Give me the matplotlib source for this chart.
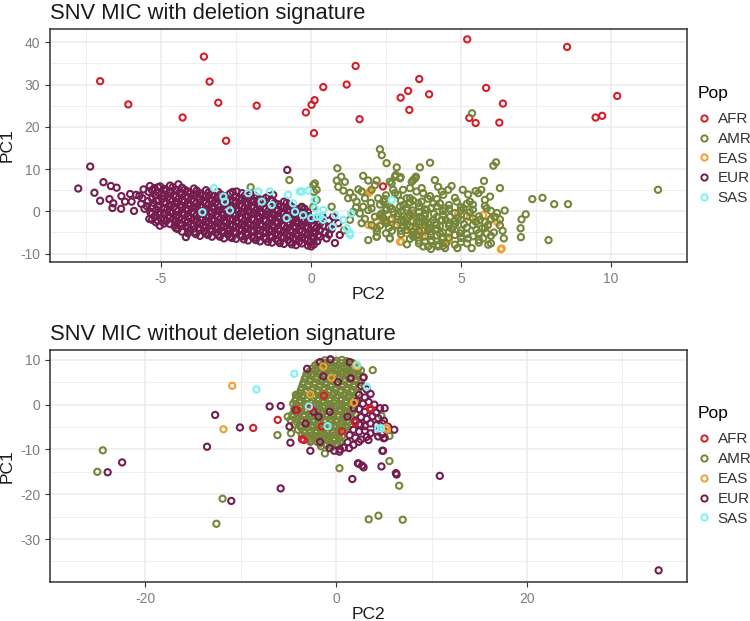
import numpy as np
import matplotlib
matplotlib.use("Agg")
import matplotlib.pyplot as plt
from matplotlib.lines import Line2D

plt.rcParams['font.family'] = ['Liberation Sans', 'DejaVu Sans']
plt.rcParams['axes.unicode_minus'] = False

################################################################################
# data (PC2, PC1)
POPS = ['AFR', 'AMR', 'EAS', 'EUR', 'SAS']
COLORS = {'AFR': '#D41F2A', 'AMR': '#75863A', 'EAS': '#EDA12E',
          'EUR': '#741D4E', 'SAS': '#80F2F2'}

# ---- panel 1: with deletion signature
top_afr = [(-7.03, 30.8), (-6.09, 25.3), (-3.57, 36.6), (-3.38, 30.7), (-3.09, 25.7),
           (-4.28, 22.2), (-2.83, 16.7), (-1.81, 25.0), (-0.17, 23.4), (0.02, 25.2),
           (0.12, 26.3), (0.41, 29.4), (0.10, 18.5), (1.19, 30.0), (1.49, 34.4),
           (1.62, 21.8), (5.21, 40.7), (8.54, 38.9), (3.61, 31.3), (3.24, 28.5),
           (2.99, 26.9), (3.94, 27.7), (3.28, 24.0), (5.84, 29.2), (6.40, 25.5),
           (5.28, 22.1), (5.49, 20.9), (6.28, 21.0), (9.49, 22.2), (9.71, 22.6),
           (10.21, 27.3), (2.40, 5.9)]

top_amr = [(5.37, 23.2), (11.57, 5.1), (2.30, 14.7), (2.36, 13.3), (2.52, 11.4),
           (2.86, 10.4), (3.97, 11.5), (3.63, 10.4), (0.88, 10.2), (0.13, 6.6),
           (0.86, 7.3), (1.01, 8.2), (1.13, 7.0), (0.91, 5.8), (1.08, 4.9),
           (1.74, 8.4), (1.91, 7.3), (2.19, 7.3), (2.13, 6.2), (2.02, 5.1),
           (1.69, 4.7), (1.30, 4.4), (1.41, 3.3), (1.24, 3.1), (1.58, 5.2),
           (1.52, 2.3), (1.80, 3.1), (1.74, 1.1), (2.02, 0.7), (2.24, 3.1),
           (2.47, 2.9), (2.63, 7.0), (2.80, 8.2), (2.97, 7.8), (2.74, 5.1),
           (2.90, 3.9), (3.07, 5.1), (3.19, 3.1), (3.30, 2.1), (3.41, 7.4),
           (3.50, 8.2), (3.30, 5.5), (3.52, 4.7), (3.74, 4.3), (3.69, 2.3),
           (3.97, 3.6), (4.08, 1.9), (4.24, 5.8), (4.36, 4.7), (3.86, 0.3),
           (3.63, -1.3), (3.41, -0.5), (3.19, 0.3), (2.97, 1.1), (2.74, -0.1),
           (2.52, 0.7), (2.36, -0.5), (2.13, -1.3), (1.91, 0.3), (1.63, -0.5),
           (1.41, -0.1), (1.30, -2.0), (1.69, -2.8), (2.02, -3.2), (2.19, -4.0),
           (2.52, -2.8), (2.86, -3.2), (3.08, -2.0), (3.29, -3.6), (3.52, -2.8),
           (3.80, -2.4), (3.97, -4.0), (4.19, -3.2), (4.36, -2.0), (1.91, -6.8),
           (2.19, -6.0), (2.63, -6.4), (3.19, -4.4), (3.52, -5.6), (3.80, -7.2),
           (3.91, -8.3), (4.24, -7.9), (4.36, -6.4), (0.69, 1.1), (0.19, 5.1),
           (0.19, 2.7), (0.08, 1.1), (6.08, 10.8), (6.17, 11.6), (6.30, 5.5),
           (5.77, 7.2), (5.68, 5.1), (5.49, 4.8), (5.24, 4.0), (5.06, 5.1),
           (4.69, 6.0), (4.58, 5.1), (4.41, 3.9), (4.13, 7.4), (3.69, 5.5),
           (3.47, 7.8), (3.36, 7.0), (2.99, 8.1), (2.83, 8.6), (2.69, 6.6),
           (7.38, 2.9), (7.72, 3.2), (8.11, 1.7), (8.57, 1.7), (7.92, -6.8),
           (7.16, -0.7), (7.02, -1.9), (6.99, -4.0), (7.00, -6.1), (6.46, 0.2),
           (6.39, -4.6), (6.43, -6.4), (6.13, -1.3), (5.86, 0.7), (5.80, 2.7),
           (5.63, -2.0), (5.86, -5.2), (5.91, -7.9), (5.74, -6.4), (5.52, -4.4),
           (5.36, -8.7), (5.24, -6.4), (5.30, 2.3), (5.08, 0.7), (4.88, -8.7),
           (4.97, -5.2), (4.74, -3.6), (4.63, -1.3), (4.47, 0.7), (4.30, -5.2),
           (4.24, -8.3), (4.47, -8.7), (4.02, -6.8), (3.74, -8.3), (3.91, -4.4),
           (4.08, -2.0), (3.80, -0.5), (3.58, 1.9), (3.30, 3.1), (3.08, 1.5),
           (2.91, -0.5), (2.63, 1.1), (2.41, 2.3), (3.41, -6.0), (3.08, -3.6),
           (2.63, -6.4), (2.19, -6.0), (3.63, -2.4), (4.30, 1.9), (4.86, 2.3),
           (5.58, 4.3), (5.97, 3.5), (4.60, -5.0), (2.90, -1.2), (3.10, -2.6),
           (3.30, -0.9), (3.50, -3.8), (3.70, -1.6), (3.90, -2.9), (4.10, -0.6),
           (4.30, -3.5), (4.50, -2.1), (4.70, -4.2), (4.90, -1.5), (5.10, -3.0),
           (5.30, -0.2), (5.50, -2.5), (5.70, -4.0), (4.00, -5.5), (4.40, -6.1),
           (4.80, -3.1), (5.20, -5.4), (3.40, -4.9), (3.00, -4.6), (2.60, -3.9),
           (2.40, -1.5), (4.60, 0.6), (4.20, 1.2), (3.80, 0.5), (5.00, 1.0),
           (5.40, 1.6), (5.90, -3.3), (6.10, -5.0), (6.20, -0.4), (4.50, -7.6),
           (4.00, -8.9), (3.60, -7.6), (5.00, -7.3), (3.30, -6.5), (2.20, -4.8),
           (1.80, -1.8), (1.50, 0.9), (2.00, 2.0), (2.80, 4.3), (3.90, 3.0),
           (4.80, 3.2), (5.60, -6.8), (6.00, -7.6), (-2.01, 5.7), (-0.72, 7.4),
           (-0.29, 0.7), (0.08, 6.2), (-0.31, 1.1), (0.10, 4.6), (1.10, -4.5)]

# extra AMR points in the dense core, one column per PC2 value
top_amr_core = [(2.3, [-3.4, -0.9, 1.6]), (2.5, [-5.2, -2.2, 0.3, 3.8]),
                (2.7, [-4.6, -1.8, 0.6]), (3.0, [-5.4, -2.2, 0.0, 2.5]),
                (3.2, [-7.8, -3.1, -1.4, 0.9]), (3.4, [-5.6, -2.3, 0.2, 2.6]),
                (3.6, [-6.9, -4.6, -0.2, 1.1]), (3.8, [-5.9, -3.3, -1.1]),
                (4.0, [-7.2, -4.8, -2.6, 0.8]), (4.2, [-5.7, -4.1, -1.3, 2.9]),
                (4.4, [-8.2, -5.0, -0.9, 0.1]), (4.6, [-6.2, -3.4, -2.8, 1.5]),
                (4.8, [-7.9, -5.6, -2.3, -0.4]), (5.0, [-6.3, -4.5, -2.0, 0.2]),
                (5.2, [-7.6, -3.8, -1.1, 1.8]), (5.4, [-5.9, -3.2, -1.7, 0.4]),
                (5.6, [-7.4, -5.1, -1.2]), (5.8, [-3.9, -2.5, 1.3]),
                (6.0, [-5.8, -1.8, 0.1]), (6.3, [-3.3, -1.9])]

top_eas = [(1.97, 4.7), (2.36, -1.3), (2.47, -2.0), (1.91, -3.2), (2.80, -3.6),
           (2.97, -7.2), (3.19, -5.2), (3.63, -5.6), (3.74, -4.0), (3.41, -1.3),
           (2.19, -2.4), (1.94, 4.4), (3.02, -7.2), (6.36, -8.8), (6.22, -2.6),
           (4.91, -0.5), (4.60, -6.8), (3.74, -4.4), (3.72, -6.1), (2.63, -2.0),
           (2.41, -2.4), (2.08, -3.6), (5.74, -0.9), (5.96, -2.2), (5.30, -1.4),
           (3.44, -4.4), (4.58, -6.8), (6.33, -9.0)]

top_eur = [(-7.76, 5.4), (-7.36, 10.6), (-7.22, 4.4), (-7.03, 2.5), (-6.92, 6.9),
           (-6.72, 2.9), (-6.67, 6.0), (-6.48, 5.6), (-6.59, 1.9), (-6.62, 0.8),
           (-6.33, 0.6), (-6.32, 3.6), (-6.03, 4.1), (-5.98, 2.3), (-5.83, 3.9),
           (-5.90, 0.1), (-6.20, 2.3), (-5.72, 3.7), (-0.79, 9.8), (-4.17, -6.1),
           (-2.03, 3.9), (-1.26, 3.9), (-2.48, 4.7),
           (-5.62, 3.1), (-5.58, 5.2), (-5.55, 0.6), (-5.66, 1.8),
           (-5.41, 4.6), (-5.37, 6.0), (-5.44, 2.4), (-5.35, -0.3), (-5.47, 1.2), (-5.39, -1.8),
           (-5.22, 5.5), (-5.18, 3.7), (-5.25, 2.0), (-5.15, 0.4), (-5.21, -1.1), (-5.17, -2.6),
           (-5.03, 5.9), (-4.98, 4.2), (-5.05, 1.4), (-4.96, 2.9), (-5.02, -0.2), (-4.99, -1.7),
           (-5.04, -3.4),
           (-4.82, 4.9), (-4.77, 3.3), (-4.84, 1.9), (-4.79, 0.5), (-4.76, -1.0), (-4.83, -2.3),
           (-4.61, 5.7), (-4.58, 3.9), (-4.63, 2.5), (-4.57, 1.1), (-4.62, -0.4), (-4.59, -1.9),
           (-4.55, -3.5),
           (-4.42, 6.4), (-4.38, 4.5), (-4.41, 3.0), (-4.36, 1.6), (-4.43, 0.1), (-4.39, -1.4),
           (-4.37, -2.8), (-4.44, -4.2),
           (-4.21, 5.1), (-4.18, 3.6), (-4.23, 2.2), (-4.17, 0.7), (-4.22, -0.8), (-4.19, -2.2),
           (-4.16, -3.6),
           (-4.02, 4.2), (-3.98, 2.8), (-4.03, 1.3), (-3.97, -0.1), (-4.01, -1.6), (-3.99, -3.0),
           (-4.04, -4.5),
           (-3.81, 4.9), (-3.78, 3.4), (-3.83, 1.9), (-3.77, 0.5), (-3.82, -1.0), (-3.79, -2.4),
           (-3.76, -3.9), (-3.84, -5.4),
           (-3.61, 3.8), (-3.58, 2.3), (-3.63, 0.9), (-3.57, -0.6), (-3.62, -2.0), (-3.59, -3.4),
           (-3.56, -4.8),
           (-3.41, 4.5), (-3.38, 3.0), (-3.43, 1.5), (-3.37, 0.1), (-3.42, -1.4), (-3.39, -2.8),
           (-3.36, -4.2), (-3.44, -5.6),
           (-3.21, 3.6), (-3.18, 2.1), (-3.23, 0.6), (-3.17, -0.8), (-3.22, -2.3), (-3.19, -3.7),
           (-3.16, -5.1),
           (-3.01, 4.0), (-2.98, 2.6), (-3.03, 1.1), (-2.97, -0.3), (-3.02, -1.8), (-2.99, -3.2),
           (-2.96, -4.6), (-3.04, -6.0),
           (-2.81, 3.1), (-2.78, 1.6), (-2.83, 0.2), (-2.77, -1.3), (-2.82, -2.7), (-2.79, -4.1),
           (-2.76, -5.5),
           (-2.61, 4.6), (-2.58, 2.5), (-2.63, 1.0), (-2.57, -0.5), (-2.62, -1.9), (-2.59, -3.3),
           (-2.56, -4.8), (-2.64, -6.3),
           (-2.41, 3.0), (-2.38, 1.5), (-2.43, 0.0), (-2.37, -1.4), (-2.42, -2.8), (-2.39, -4.2),
           (-2.36, -5.7),
           (-2.21, 3.7), (-2.18, 2.2), (-2.23, 0.7), (-2.17, -0.8), (-2.22, -2.2), (-2.19, -3.6),
           (-2.16, -5.0), (-2.24, -6.6),
           (-2.01, 2.6), (-1.98, 1.1), (-2.03, -0.4), (-1.97, -1.8), (-2.02, -3.2), (-1.99, -4.6),
           (-1.96, -6.0),
           (-1.81, 3.3), (-1.78, 1.8), (-1.83, 0.3), (-1.77, -1.1), (-1.82, -2.6), (-1.79, -4.0),
           (-1.76, -5.4), (-1.84, -6.8),
           (-1.61, 2.4), (-1.58, 0.9), (-1.63, -0.6), (-1.57, -2.0), (-1.62, -3.4), (-1.59, -4.8),
           (-1.56, -6.2),
           (-1.41, 3.6), (-1.38, 1.5), (-1.43, 0.0), (-1.37, -1.4), (-1.42, -2.9), (-1.39, -4.3),
           (-1.36, -5.7), (-1.44, -7.2),
           (-1.21, 2.0), (-1.18, 0.5), (-1.23, -1.0), (-1.17, -2.4), (-1.22, -3.8), (-1.19, -5.2),
           (-1.16, -6.6),
           (-1.01, 1.2), (-0.98, -0.3), (-1.03, -1.8), (-0.97, -3.2), (-1.02, -4.6), (-0.99, -6.0),
           (-1.04, -7.5),
           (-0.81, 2.0), (-0.78, 0.4), (-0.83, -1.1), (-0.77, -2.6), (-0.82, -4.0), (-0.79, -5.4),
           (-0.76, -6.8),
           (-0.61, 0.9), (-0.58, -0.6), (-0.63, -2.1), (-0.57, -3.5), (-0.62, -4.9), (-0.59, -6.3),
           (-0.64, -7.8),
           (-0.41, 0.0), (-0.38, -1.5), (-0.43, -3.0), (-0.37, -4.4), (-0.42, -5.8), (-0.39, -7.2),
           (-0.21, 0.6), (-0.18, -0.9), (-0.23, -2.4), (-0.17, -3.8), (-0.22, -5.2), (-0.19, -6.6),
           (-0.01, -1.6), (0.02, -3.1), (-0.03, -4.5), (0.03, -5.9), (-0.04, -7.4), (0.01, -8.3),
           (0.22, -2.4), (0.18, -4.0), (0.24, -5.6), (0.21, -7.1),
           (0.41, -3.4), (0.47, -5.0), (0.52, -6.4), (0.38, -1.2),
           (0.74, -1.3), (0.69, -4.2), (0.80, -7.5), (0.91, -2.8), (0.96, -5.6)]

# extra EUR points filling the dense band, one column per PC2 value
top_eur_core = [(-5.3, [5.0, 3.0, 1.3, -0.6, -2.0]),
                (-5.1, [5.7, 4.4, 2.6, 1.0, -0.5, -2.2]),
                (-4.9, [5.3, 3.6, 2.2, 0.8, -0.7, -2.0, -2.9]),
                (-4.7, [6.1, 4.5, 2.8, 1.4, -0.2, -1.5, -3.0]),
                (-4.5, [5.0, 3.5, 2.0, 0.5, -1.0, -2.5, -4.0]),
                (-4.3, [5.6, 4.0, 2.5, 1.0, -0.4, -1.9, -3.3, -4.8]),
                (-4.1, [4.7, 3.2, 1.8, 0.3, -1.2, -2.6, -4.0, -5.2]),
                (-3.9, [5.4, 3.8, 2.4, 0.9, -0.5, -2.0, -3.4, -4.9]),
                (-3.7, [4.3, 2.8, 1.3, -0.1, -1.6, -3.0, -4.4, -5.8]),
                (-3.5, [5.0, 3.5, 2.0, 0.5, -1.0, -2.4, -3.8, -5.2]),
                (-3.3, [4.0, 2.5, 1.0, -0.4, -1.9, -3.3, -4.7, -6.0]),
                (-3.1, [4.6, 3.1, 1.6, 0.2, -1.3, -2.7, -4.1, -5.6]),
                (-2.9, [3.6, 2.1, 0.6, -0.8, -2.3, -3.7, -5.1, -6.4]),
                (-2.7, [4.2, 2.6, 1.1, -0.3, -1.8, -3.2, -4.6, -6.0]),
                (-2.5, [3.5, 2.0, 0.5, -0.9, -2.4, -3.8, -5.2, -6.5]),
                (-2.3, [4.3, 2.7, 1.2, -0.2, -1.7, -3.1, -4.5, -5.9]),
                (-2.1, [3.2, 1.7, 0.2, -1.2, -2.7, -4.1, -5.5, -6.9]),
                (-1.9, [3.8, 2.4, 0.9, -0.5, -2.0, -3.4, -4.8, -6.3]),
                (-1.7, [2.8, 1.3, -0.2, -1.6, -3.1, -4.5, -5.9, -7.1]),
                (-1.5, [3.2, 2.0, 0.6, -0.8, -2.3, -3.7, -5.1, -6.5]),
                (-1.3, [2.6, 1.1, -0.4, -1.8, -3.3, -4.7, -6.1, -7.4]),
                (-1.1, [1.7, 0.2, -1.3, -2.7, -4.2, -5.6, -7.0]),
                (-0.9, [2.3, 0.9, -0.6, -2.0, -3.5, -4.9, -6.3, -7.7]),
                (-0.7, [1.4, -0.1, -1.6, -3.0, -4.5, -5.9, -7.3]),
                (-0.5, [0.6, -0.9, -2.4, -3.8, -5.3, -6.7, -8.0]),
                (-0.3, [1.0, -0.4, -1.9, -3.3, -4.8, -6.2, -7.6]),
                (-0.1, [-0.2, -1.1, -2.5, -4.0, -5.4, -6.8, -8.1]),
                (0.1, [-1.9, -3.5, -5.0, -6.5, -7.8]),
                (0.3, [-2.9, -4.5, -6.0]),
                (0.6, [-2.2, -3.8, -5.5])]

top_sas = [(-3.23, 5.5), (-3.62, -0.2), (-2.70, 0.2), (-2.92, 3.5), (-2.87, 2.3),
           (-2.09, 4.3), (-1.76, 4.7), (-1.37, 4.7), (-1.64, 2.3), (-1.31, 1.5),
           (-0.76, 3.9), (-0.59, 1.9), (-0.37, 4.7), (-0.09, 4.9), (-0.81, -1.6),
           (-0.53, -0.1), (-0.26, -0.9), (0.01, -1.6), (0.13, 2.7), (0.41, 0.3),
           (0.41, -2.0), (0.80, -0.9), (1.08, -2.0), (1.19, -4.0), (1.30, -5.6),
           (1.34, -0.5), (0.13, 0.7), (0.20, -1.3), (2.69, 2.7), (1.30, -5.2),
           (0.73, -3.6), (0.30, -1.3), (-0.31, 4.7)]

# ---- panel 2: without deletion signature
bot_afr = [(-8.70, -5.2), (-6.13, -3.4), (-4.10, -1.2), (-3.60, -7.7), (-3.40, -7.9),
           (-2.71, -0.8), (-1.52, -4.9), (3.60, -1.0), (2.00, -4.0), (-1.30, 2.0),
           (3.55, -0.8), (0.60, -6.0)]

bot_amr = [(-24.47, -10.2), (-25.04, -15.0), (-11.91, -21.0), (-12.56, -26.6), (-6.16, -6.8),
           (0.34, -14.2), (3.41, -25.6), (4.43, -24.8), (3.83, 7.7), (-1.18, -10.9),
           (6.60, -18.1), (6.97, -25.7), (5.58, -12.6), (5.58, -7.0), (4.74, -2.5),
           (-5.08, -2.7), (-4.74, -6.4), (-4.23, 2.2), (-2.71, -8.3),
           (-1.2, 9.9), (-0.6, 10.1), (0.0, 9.8), (0.6, 10.0), (1.1, 9.7),
           (-2.2, 8.8), (-1.6, 8.6), (-1.0, 8.9), (-0.4, 8.5), (0.2, 8.8), (0.8, 8.6),
           (1.4, 8.9), (2.0, 8.4),
           (-2.8, 7.4), (-2.2, 7.6), (-1.6, 7.3), (-1.0, 7.6), (-0.4, 7.4), (0.2, 7.7),
           (0.8, 7.3), (1.4, 7.5), (2.0, 7.2), (2.6, 7.6),
           (-3.2, 6.2), (-2.6, 6.4), (-2.0, 6.1), (-1.4, 6.5), (-0.8, 6.2), (-0.2, 6.4),
           (0.4, 6.1), (1.0, 6.5), (1.6, 6.2), (2.2, 6.4), (2.8, 6.0),
           (-3.4, 5.0), (-2.8, 5.3), (-2.2, 5.0), (-1.6, 5.2), (-1.0, 4.9), (-0.4, 5.3),
           (0.2, 5.0), (0.8, 5.2), (1.4, 4.9), (2.0, 5.3), (2.6, 5.0),
           (-3.6, 3.8), (-3.0, 4.0), (-2.4, 3.7), (-1.8, 4.1), (-1.2, 3.8), (-0.6, 4.0),
           (0.0, 3.7), (0.6, 4.1), (1.2, 3.8), (1.8, 4.0), (2.4, 3.7),
           (-3.8, 2.6), (-3.2, 2.9), (-2.6, 2.6), (-2.0, 2.8), (-1.4, 2.5), (-0.8, 2.9),
           (-0.2, 2.6), (0.4, 2.8), (1.0, 2.5), (1.6, 2.9), (2.2, 2.6),
           (-4.2, 1.4), (-3.6, 1.7), (-3.0, 1.4), (-2.4, 1.6), (-1.8, 1.3), (-1.2, 1.7),
           (-0.6, 1.4), (0.0, 1.6), (0.6, 1.3), (1.2, 1.7), (1.8, 1.4),
           (-4.5, 0.2), (-3.9, 0.5), (-3.3, 0.2), (-2.7, 0.4), (-2.1, 0.1), (-1.5, 0.5),
           (-0.9, 0.2), (-0.3, 0.4), (0.3, 0.1), (0.9, 0.5), (1.5, 0.2), (2.1, 0.4),
           (-4.4, -1.0), (-3.8, -0.7), (-3.2, -1.0), (-2.6, -0.8), (-2.0, -1.1), (-1.4, -0.7),
           (-0.8, -1.0), (-0.2, -0.8), (0.4, -1.1), (1.0, -0.7), (1.6, -1.0),
           (-4.6, -2.2), (-4.0, -1.9), (-3.4, -2.2), (-2.8, -2.0), (-2.2, -2.3), (-1.6, -1.9),
           (-1.0, -2.2), (-0.4, -2.0), (0.2, -2.3), (0.8, -1.9), (1.4, -2.2), (2.0, -2.0),
           (-4.8, -3.4), (-4.2, -3.1), (-3.6, -3.4), (-3.0, -3.2), (-2.4, -3.5), (-1.8, -3.1),
           (-1.2, -3.4), (-0.6, -3.2), (0.0, -3.5), (0.6, -3.1), (1.2, -3.4),
           (-4.4, -4.4), (-3.8, -4.7), (-3.2, -4.4), (-2.6, -4.6), (-2.0, -4.3), (-1.4, -4.7),
           (-0.8, -4.4), (-0.2, -4.6), (0.4, -4.3), (1.0, -4.7), (1.6, -4.4),
           (-4.0, -5.6), (-3.4, -5.9), (-2.8, -5.6), (-2.2, -5.8), (-1.6, -5.5), (-1.0, -5.9),
           (-0.4, -5.6), (0.2, -5.8), (0.8, -5.5),
           (-3.6, -6.8), (-3.0, -7.1), (-2.4, -6.8), (-1.8, -7.0), (-1.2, -6.7), (-0.6, -7.1),
           (0.0, -6.8), (0.6, -7.0),
           (-2.6, -8.0), (-2.0, -8.3), (-1.4, -8.0), (-0.8, -8.2), (-0.2, -7.9), (0.4, -8.3),
           (-1.6, -9.3), (-1.0, -9.0), (-0.4, -9.4), (0.2, -9.1)]

# extra AMR points filling the blob, one row per PC1 value
bot_amr_core = [(9.3, [-1.9, -1.3, -0.7, -0.1, 0.5, 1.1, 1.7]),
                (8.1, [-2.5, -1.9, -1.3, -0.7, -0.1, 0.5, 1.1, 1.7, 2.3]),
                (6.9, [-3.1, -2.5, -1.9, -1.3, -0.7, -0.1, 0.5, 1.1, 1.7, 2.3]),
                (5.7, [-3.3, -2.7, -2.1, -1.5, -0.9, -0.3, 0.3, 0.9, 1.5, 2.1]),
                (4.5, [-3.5, -2.9, -2.3, -1.7, -1.1, -0.5, 0.1, 0.7, 1.3, 1.9]),
                (3.3, [-3.7, -3.1, -2.5, -1.9, -1.3, -0.7, -0.1, 0.5, 1.1, 1.7]),
                (2.1, [-4.0, -3.4, -2.8, -2.2, -1.6, -1.0, -0.4, 0.2, 0.8, 1.4]),
                (0.9, [-4.3, -3.7, -3.1, -2.5, -1.9, -1.3, -0.7, -0.1, 0.5, 1.1, 1.7]),
                (-0.3, [-4.2, -3.6, -3.0, -2.4, -1.8, -1.2, -0.6, 0.0, 0.6, 1.2]),
                (-1.5, [-4.3, -3.7, -3.1, -2.5, -1.9, -1.3, -0.7, -0.1, 0.5, 1.1, 1.7]),
                (-2.7, [-4.5, -3.9, -3.3, -2.7, -2.1, -1.5, -0.9, -0.3, 0.3, 0.9]),
                (-3.9, [-4.1, -3.5, -2.9, -2.3, -1.7, -1.1, -0.5, 0.1, 0.7, 1.3]),
                (-5.1, [-3.7, -3.1, -2.5, -1.9, -1.3, -0.7, -0.1, 0.5, 1.1]),
                (-6.3, [-3.3, -2.7, -2.1, -1.5, -0.9, -0.3, 0.3]),
                (-7.5, [-2.7, -2.1, -1.5, -0.9, -0.3, 0.3]),
                (-8.7, [-1.7, -1.1, -0.5, 0.1])]

bot_eas = [(-10.90, 4.2), (-11.82, -5.5), (5.31, -5.5), (1.86, 0.4), (2.20, 8.6),
           (-2.71, 2.3), (2.03, 8.7), (-1.35, 8.5), (5.25, -5.1), (-0.50, 6.0)]

bot_eur = [(-23.96, -15.1), (-22.44, -12.9), (-13.54, -9.4), (-12.69, -2.3), (-11.00, -21.5),
           (-10.09, -5.1), (-6.98, -0.4), (-5.82, -0.3), (-5.82, -18.7), (-4.80, -8.5),
           (1.69, -16.6), (2.37, -13.2), (2.87, -14.0), (4.74, -13.8), (4.84, -10.3),
           (33.80, -37.0), (10.86, -15.9), (6.33, -15.6), (6.09, -5.6), (4.97, -7.5),
           (4.84, -4.2), (5.08, -0.8), (6.26, -15.3), (2.27, -13.1), (2.71, -13.6),
           (-3.05, 8.0), (-1.69, 9.5), (1.42, 9.5), (2.88, 6.1), (-0.61, 10.1),
           (2.6, 4.2), (3.2, 3.4), (2.4, 2.2), (3.0, 1.6), (3.6, 2.4), (2.2, 0.8),
           (2.8, 0.2), (3.4, 0.6), (4.0, 0.0), (4.6, -0.8), (2.4, -1.0), (3.0, -1.6),
           (3.6, -1.2), (4.2, -1.8), (2.6, -2.8), (3.2, -3.2), (3.8, -2.6), (4.4, -3.0),
           (5.0, -3.6), (2.0, -3.6), (2.4, -4.4), (3.0, -4.8), (3.6, -4.2), (4.2, -4.6),
           (1.8, -5.6), (2.4, -6.0), (3.0, -5.8), (3.6, -6.4), (4.2, -6.0), (4.8, -6.6),
           (1.4, -6.8), (2.0, -7.4), (2.6, -7.8), (3.2, -7.2), (1.2, -8.4), (1.8, -9.0),
           (0.8, -9.6), (-0.2, -10.3), (0.4, -10.0),
           (-4.90, -4.9), (-4.23, -1.2), (-3.22, -4.2), (-2.71, -10.3), (-1.69, -8.3),
           (-0.68, -9.7), (0.34, -10.5), (1.35, -9.7), (2.37, -8.3), (3.38, -7.9),
           (4.40, -7.1), (5.08, -7.4), (4.91, -10.3), (5.42, -4.9),
           (-1.86, -2.7), (-0.68, -1.6), (1.18, -2.7), (1.52, 5.9), (0.17, 5.1),
           (-1.35, 6.3), (-2.37, -1.6), (1.86, -0.8), (2.54, -4.5)]

bot_sas = [(-8.36, 3.4), (-4.40, 6.9), (-0.91, -4.8), (4.70, -5.3), (-2.87, -0.4),
           (3.22, 4.0), (4.40, -5.3), (2.20, 8.9)]


def flatten_cols(cols):
    return [(x, y) for x, ys in cols for y in ys]


def flatten_rows(rows):
    return [(x, y) for y, xs in rows for x in xs]


TOP = {'AFR': top_afr, 'AMR': top_amr + flatten_cols(top_amr_core), 'EAS': top_eas,
       'EUR': top_eur + flatten_cols(top_eur_core), 'SAS': top_sas}
BOT = {'AFR': bot_afr, 'AMR': bot_amr + flatten_rows(bot_amr_core), 'EAS': bot_eas,
       'EUR': bot_eur, 'SAS': bot_sas}


################################################################################
def panel(ax, data, order, title, xlim, ylim, xticks, yticks, xminor, yminor):
    ax.set_facecolor('white')
    for z, pop in enumerate(order):
        pts = np.array(data[pop])
        ax.scatter(pts[:, 0], pts[:, 1], s=20, facecolors='none',
                   edgecolors=COLORS[pop], linewidths=1.5, zorder=3 + z)
    ax.set_xlim(*xlim)
    ax.set_ylim(*ylim)
    ax.set_xticks(xticks)
    ax.set_yticks(yticks)
    ax.set_xticks(xminor, minor=True)
    ax.set_yticks(yminor, minor=True)
    ax.grid(True, which='major', color='#EBEBEB', linewidth=1.1, zorder=0)
    ax.grid(True, which='minor', color='#EBEBEB', linewidth=0.6, zorder=0)
    ax.set_axisbelow(True)
    ax.tick_params(which='minor', length=0)
    ax.tick_params(which='major', length=3.5, width=0.8, color='#333333',
                   labelsize=10, labelcolor='#7F7F7F')
    for sp in ax.spines.values():
        sp.set_color('#333333')
        sp.set_linewidth(1.1)
    ax.set_xlabel('PC2', fontsize=12.5, color='#1A1A1A', labelpad=1)
    ax.set_ylabel('PC1', fontsize=12.5, color='#1A1A1A', labelpad=4)
    ax.set_title(title, loc='left', fontsize=15.8, color='#1A1A1A', pad=7)

    handles = [Line2D([], [], linestyle='none', marker='o', markersize=4.5,
                      markerfacecolor='none', markeredgecolor=COLORS[p],
                      markeredgewidth=1.4, label=p) for p in POPS]
    leg = ax.legend(handles=handles, title='Pop', loc='center left',
                    bbox_to_anchor=(1.0173, 0.5), borderaxespad=0, borderpad=0,
                    frameon=False, fontsize=11, title_fontsize=12.5,
                    handlelength=0.8, handletextpad=0.5, labelspacing=0.38,
                    labelcolor='#333333')
    leg._legend_box.align = 'left'
    leg._legend_box.sep = 8


fig = plt.figure(figsize=(7.5, 6.21), dpi=100)
ax1 = fig.add_axes([0.0667, 0.578, 0.849, 0.375])
ax2 = fig.add_axes([0.0667, 0.0628, 0.849, 0.3736])

panel(ax1, TOP, ['AFR', 'EAS', 'AMR', 'EUR', 'SAS'],
      'SNV MIC with deletion signature',
      (-8.7, 12.53), (-12.0, 43.1), [-5, 0, 5, 10], [-10, 0, 10, 20, 30, 40],
      [-7.5, -2.5, 2.5, 7.5, 12.5], [-5, 5, 15, 25, 35])
panel(ax2, BOT, ['AMR', 'EUR', 'AFR', 'EAS', 'SAS'],
      'SNV MIC without deletion signature',
      (-27.9, 36.75), (-39.6, 12.2), [-20, 0, 20], [-30, -20, -10, 0, 10],
      [-30, -10, 10, 30], [-35, -25, -15, -5, 5])

fig.savefig('out.png', dpi=100, facecolor='white')
